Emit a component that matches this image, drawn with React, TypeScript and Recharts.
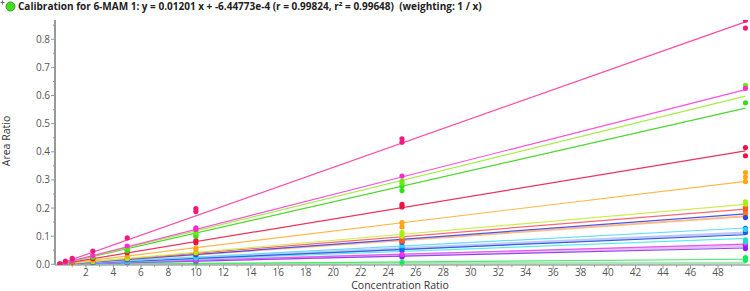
import { ComposedChart, Line, Scatter, XAxis, YAxis } from 'recharts'

/* ── Data ── */

const CONC = [0.1, 0.5, 1, 2.5, 5, 10, 25, 50]

const X_TICKS = [1, 2, 3, 4, 5, 6, 7, 8, 9, 10, 11, 12, 13, 14, 15, 16, 17, 18, 19, 20, 21, 22, 23, 24, 25,
  26, 27, 28, 29, 30, 31, 32, 33, 34, 35, 36, 37, 38, 39, 40, 41, 42, 43, 44, 45, 46, 47, 48, 49]
const Y_TICKS = [0, 0.05, 0.1, 0.15, 0.2, 0.25, 0.3, 0.35, 0.4, 0.45, 0.5, 0.55, 0.6, 0.65, 0.7, 0.75, 0.8, 0.85]

const TITLE = 'Calibration for 6-MAM 1: y = 0.01201 x + -6.44773e-4 (r = 0.99824, r² = 0.99648)  (weighting: 1 / x)'

// fit line values at x = 0 and x = 50, replicate points per concentration level
const PINK_FIT = [0, 0.862]
const PINK_PTS = [[0.002], [0.011], [0.021], [0.047], [0.094], [0.198, 0.188], [0.446, 0.434], [0.868, 0.84]]
const MAGENTA_FIT = [0, 0.621]
const MAGENTA_PTS = [[0.001], [0.007], [0.013], [0.031], [0.065], [0.13, 0.124], [0.314], [0.626]]
const LIME_FIT = [-0.0006, 0.598]
const LIME_PTS = [[0.001], [0.006], [0.012], [0.029], [0.06], [0.118, 0.112], [0.296, 0.288], [0.636, 0.628]]
const GREEN_FIT = [0, 0.555]
const GREEN_PTS = [[0.001], [0.005], [0.011], [0.025], [0.052, 0.048], [0.106, 0.1], [0.278, 0.262], [0.574]]
const RED_FIT = [0, 0.403]
const RED_PTS = [[0.001], [0.004], [0.008], [0.02], [0.041], [0.084, 0.077], [0.213, 0.204], [0.415, 0.386]]
const ORANGE_FIT = [0, 0.295]
const ORANGE_PTS = [[0.001], [0.003], [0.006], [0.014], [0.029], [0.058, 0.052], [0.148, 0.133], [0.326, 0.31, 0.294]]
const LLIME_FIT = [0, 0.213]
const LLIME_PTS = [[0], [0.002], [0.004], [0.01], [0.021], [0.042], [0.113, 0.1], [0.222, 0.214]]
const SALMON_FIT = [0, 0.196]
const SALMON_PTS = [[0], [0.002], [0.004], [0.009], [0.019], [0.04], [0.092, 0.082], [0.202, 0.194]]
const BLUE_FIT = [-0.001, 0.179]
const BLUE_PTS = [[0], [0.001], [0.003], [0.008], [0.016], [0.034], [0.078], [0.166]]
const LORANGE_FIT = [0, 0.171]
const LORANGE_PTS = [[0], [0.002], [0.003], [0.008], [0.017], [0.035], [0.084], [0.184, 0.176]]
const CYAN_FIT = [0, 0.129]
const CYAN_PTS = [[0], [0.001], [0.002], [0.006], [0.012], [0.026], [0.066], [0.124]]
const LBLUE_FIT = [0, 0.111]
const LBLUE_PTS = [[0], [0.001], [0.002], [0.004], [0.008], [0.02, 0.015], [0.056, 0.049], [0.128, 0.12, 0.113]]
const DBLUE_FIT = [0, 0.105]
const TEAL_FIT = [0, 0.092]
const TEAL_PTS = [[0], [0.001], [0.002], [0.005], [0.009], [0.022], [0.069], [0.087, 0.08]]
const MAG2_FIT = [0, 0.072]
const MAG2_PTS = [[0], [0], [0.001], [0.003], [0.007], [0.014], [0.035], [0.075]]
const LAV_FIT = [0, 0.066]
const VIOLET_FIT = [0, 0.058]
const VIOLET_PTS = [[0], [0], [0.001], [0.003], [0.006], [0.012], [0.03, 0.026], [0.068, 0.056]]
const GREEN2_FIT = [-0.001, 0.018]
const GREEN2_PTS = [[0], [0], [0], [0.001], [0.002], [0.004], [0.007], [0.024, 0.014]]
const PALE_FIT = [0, 0.004]

type Series = { fit: number[]; pts: number[][]; line: string; dot: string; w: number; op: number }

const SERIES: Series[] = [
  { fit: PALE_FIT, pts: [], line: '#99ddaa', dot: '#99ddaa', w: 3, op: 0.8 },
  { fit: LAV_FIT, pts: [], line: '#cc99ee', dot: '#cc99ee', w: 3, op: 0.6 },
  { fit: LBLUE_FIT, pts: LBLUE_PTS, line: '#9fb0f5', dot: '#1166ee', w: 3, op: 0.7 },
  { fit: LORANGE_FIT, pts: LORANGE_PTS, line: '#ffaa66', dot: '#ff7a22', w: 2, op: 0.8 },
  { fit: GREEN2_FIT, pts: GREEN2_PTS, line: '#44ee66', dot: '#11ee55', w: 1.2, op: 1 },
  { fit: VIOLET_FIT, pts: VIOLET_PTS, line: '#9944ee', dot: '#8822ee', w: 1.2, op: 1 },
  { fit: MAG2_FIT, pts: MAG2_PTS, line: '#ee55ee', dot: '#ee33ee', w: 1.2, op: 1 },
  { fit: TEAL_FIT, pts: TEAL_PTS, line: '#55eeee', dot: '#22ddcc', w: 1.2, op: 1 },
  { fit: DBLUE_FIT, pts: [], line: '#3b5be0', dot: '#3b5be0', w: 1.2, op: 1 },
  { fit: CYAN_FIT, pts: CYAN_PTS, line: '#66ddff', dot: '#33ccff', w: 1.2, op: 1 },
  { fit: BLUE_FIT, pts: BLUE_PTS, line: '#4a55ee', dot: '#2a44ee', w: 1.2, op: 1 },
  { fit: SALMON_FIT, pts: SALMON_PTS, line: '#ff6670', dot: '#ff5a22', w: 1.2, op: 1 },
  { fit: LLIME_FIT, pts: LLIME_PTS, line: '#ccee55', dot: '#aaee11', w: 1.2, op: 1 },
  { fit: ORANGE_FIT, pts: ORANGE_PTS, line: '#ffb84a', dot: '#ffa611', w: 1.2, op: 1 },
  { fit: RED_FIT, pts: RED_PTS, line: '#ee3358', dot: '#ee1144', w: 1.2, op: 1 },
  { fit: GREEN_FIT, pts: GREEN_PTS, line: '#4cd62e', dot: '#33e011', w: 1.2, op: 1 },
  { fit: LIME_FIT, pts: LIME_PTS, line: '#a6ee4a', dot: '#66ee11', w: 1.2, op: 1 },
  { fit: MAGENTA_FIT, pts: MAGENTA_PTS, line: '#ff4fdc', dot: '#ff2ad0', w: 1.2, op: 1 },
  { fit: PINK_FIT, pts: PINK_PTS, line: '#ff4aa5', dot: '#f01a7d', w: 1.2, op: 1 },
]

const FONT = '"Open Sans", "Noto Sans", sans-serif'

/* ── Ticks ── */

function YTick({ x, y, payload }: any) {
  const v = payload.value as number
  const major = Math.round(v * 100) % 10 === 0
  return (
    <g>
      <line x1={x - (major ? 4 : 2)} x2={x} y1={y} y2={y} stroke="#999" />
      {major && (
        <text x={x - 5} y={y + 3.5} textAnchor="end" fontSize={10} fill="#555" fontFamily={FONT}>
          {v.toFixed(1)}
        </text>
      )}
    </g>
  )
}

function XTick({ x, y, payload }: any) {
  const v = payload.value as number
  const major = v % 2 === 0
  return (
    <g>
      <line x1={x} x2={x} y1={y} y2={y + (major ? 4 : 2)} stroke="#999" />
      {major && (
        <text x={x} y={y + 11} textAnchor="middle" fontSize={10} fill="#555" fontFamily={FONT}>
          {v}
        </text>
      )}
    </g>
  )
}

export default function App() {
  return (
    <div style={{ position: 'relative', width: 750, height: 291, background: '#fff', overflow: 'hidden' }}>
      <style>{'body{margin:0}'}</style>
      <ComposedChart width={750} height={291} margin={{ top: 20, right: 0, bottom: 6, left: 0 }}>
        <XAxis
          type="number"
          dataKey="x"
          domain={[-0.255, 50.33]}
          ticks={X_TICKS}
          interval={0}
          tick={<XTick />}
          tickLine={false}
          tickSize={0}
          tickMargin={0}
          axisLine={{ stroke: '#aaa', strokeWidth: 1.5 }}
          height={20}
          allowDataOverflow
        />
        <YAxis
          type="number"
          domain={[-0.0025, 0.8686]}
          ticks={Y_TICKS}
          interval={0}
          tick={<YTick />}
          tickLine={false}
          tickSize={0}
          tickMargin={0}
          axisLine={{ stroke: '#999', strokeWidth: 2 }}
          width={55}
          allowDataOverflow
        />
        {SERIES.map((s, i) => (
          <Line
            key={'l' + i}
            data={[{ x: 0, y: s.fit[0] }, { x: 50, y: s.fit[1] }]}
            dataKey="y"
            type="linear"
            stroke={s.line}
            strokeWidth={s.w}
            strokeOpacity={s.op}
            dot={false}
            activeDot={false}
            isAnimationActive={false}
          />
        ))}
        {SERIES.map((s, i) => (
          <Scatter
            key={'s' + i}
            data={s.pts.flatMap((reps, j) => reps.map((y) => ({ x: CONC[j], y })))}
            dataKey="y"
            fill={s.dot}
            shape={(p: any) => <circle cx={p.cx} cy={p.cy} r={2.6} fill={s.dot} />}
            isAnimationActive={false}
          />
        ))}
      </ComposedChart>

      {/* title row */}
      <svg width={20} height={14} style={{ position: 'absolute', left: 0, top: 0 }}>
        <line x1={0.5} x2={4.5} y1={2.5} y2={2.5} stroke="#666" />
        <line x1={2.5} x2={2.5} y1={0.5} y2={4.5} stroke="#666" />
        <circle cx={10.5} cy={6.5} r={4.5} fill="#44dd22" stroke="#2aa515" />
      </svg>
      <div
        style={{
          position: 'absolute', left: 18, top: -1, fontFamily: FONT, fontWeight: 700,
          fontSize: 10, lineHeight: '14px', color: '#222', whiteSpace: 'pre',
        }}
      >
        {TITLE}
      </div>

      {/* axis titles */}
      <div
        style={{
          position: 'absolute', left: 0, width: 800, top: 280, textAlign: 'center',
          fontFamily: FONT, fontSize: 10.5, lineHeight: '11px', color: '#333',
        }}
      >
        Concentration Ratio
      </div>
      <div
        style={{
          position: 'absolute', left: 6, top: 141, width: 0, height: 0,
        }}
      >
        <div
          style={{
            position: 'absolute', left: -50, top: -7, width: 100, textAlign: 'center',
            transform: 'rotate(-90deg)', fontFamily: FONT, fontSize: 10.5, lineHeight: '14px', color: '#333',
          }}
        >
          Area Ratio
        </div>
      </div>
    </div>
  )
}
